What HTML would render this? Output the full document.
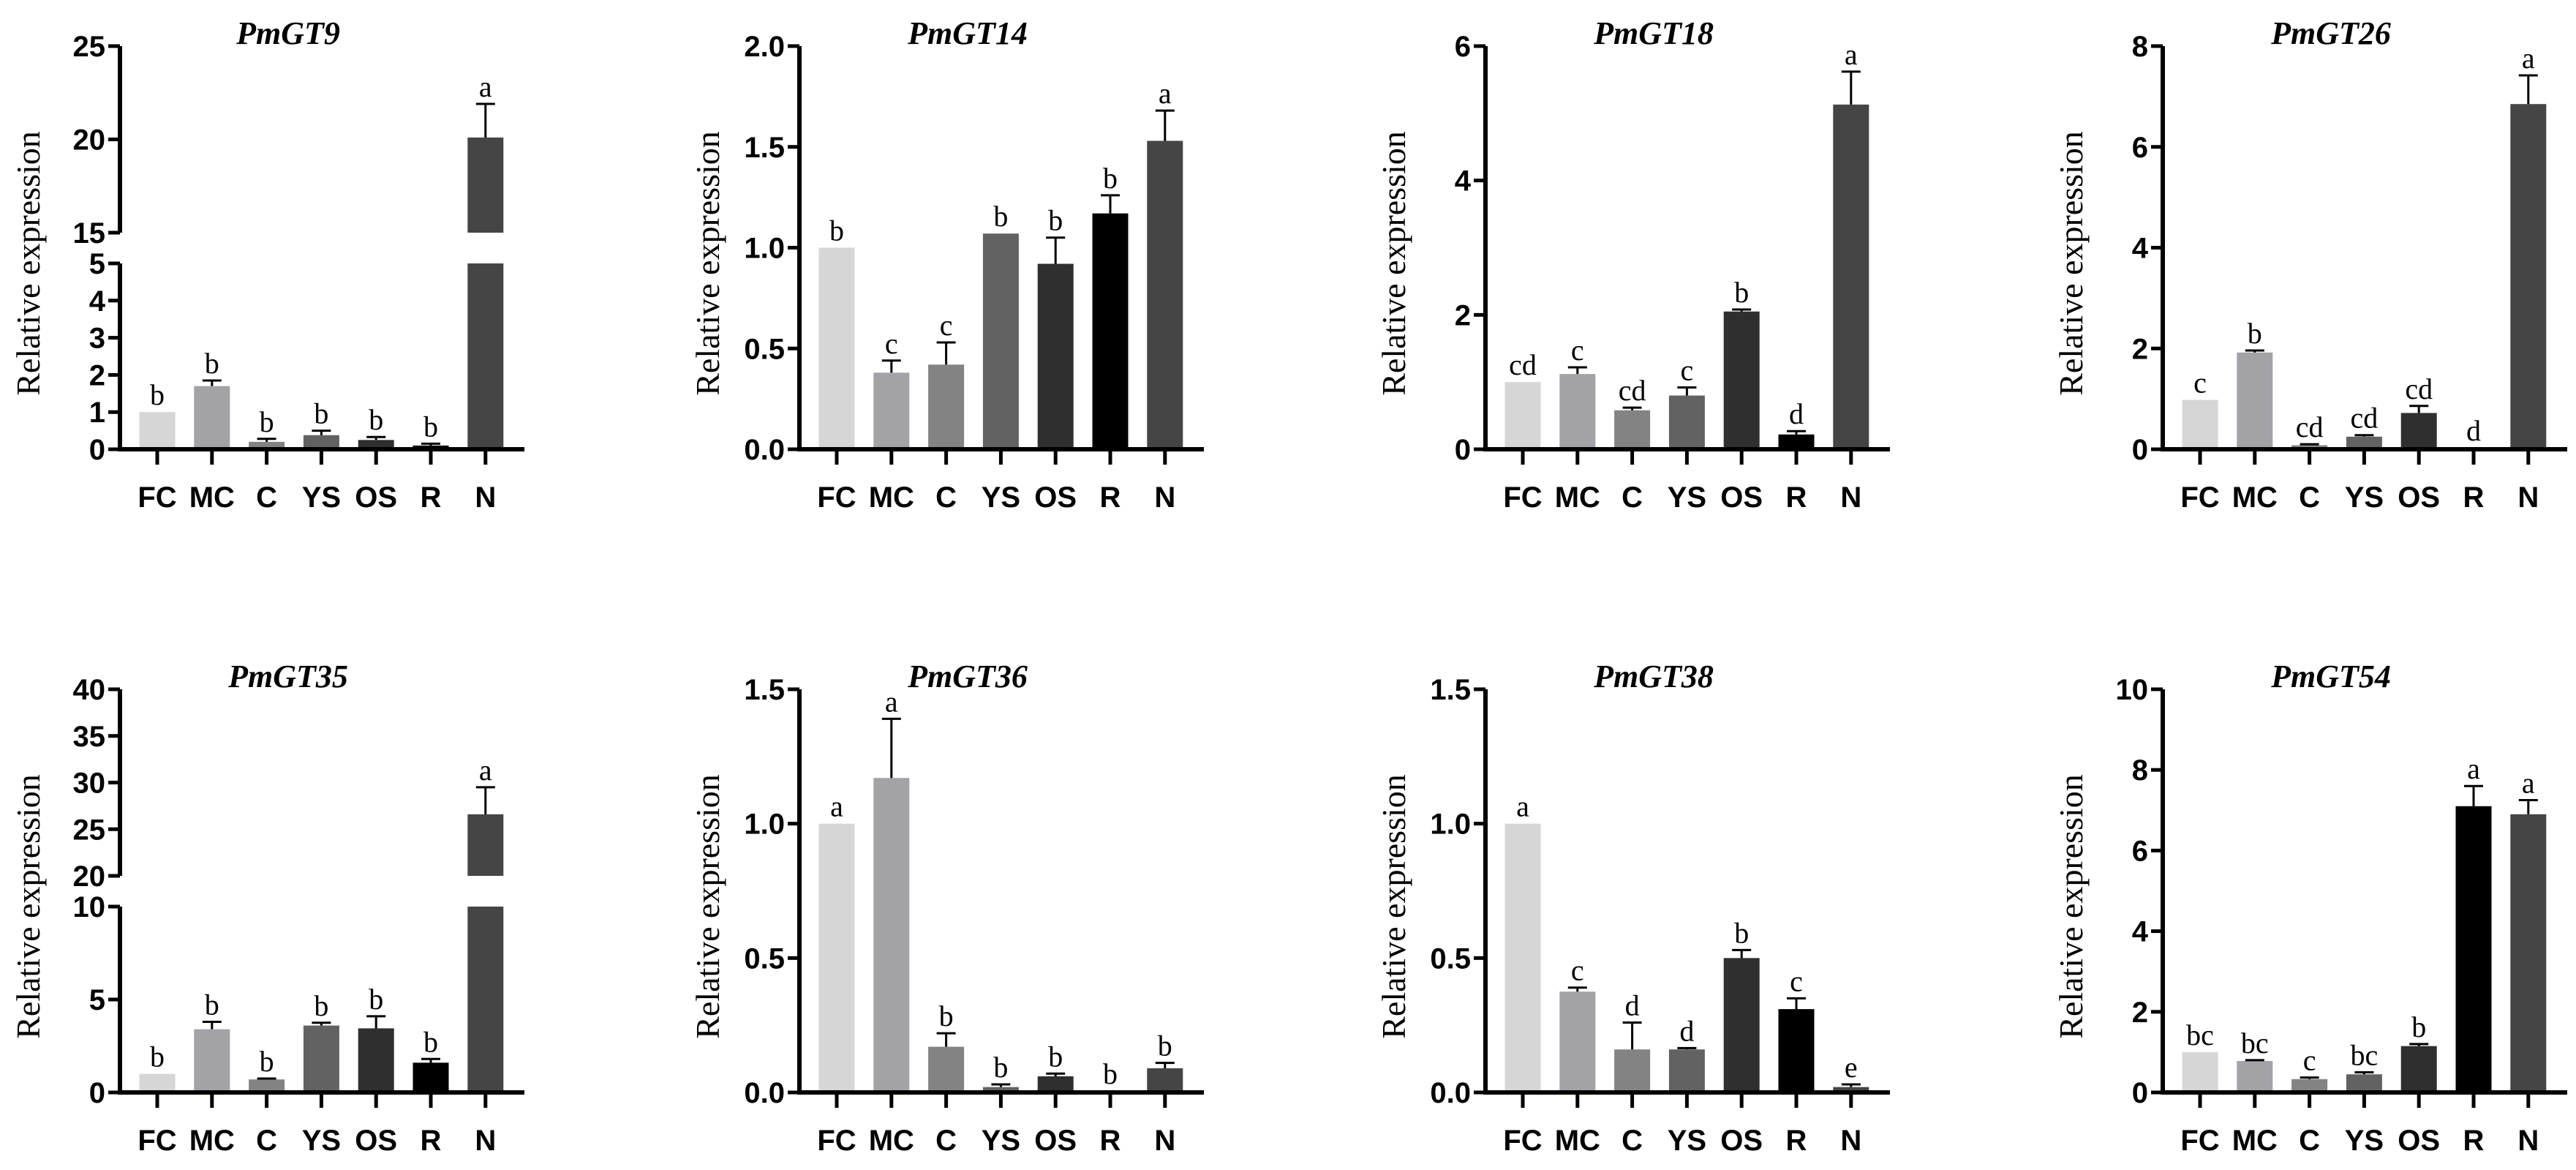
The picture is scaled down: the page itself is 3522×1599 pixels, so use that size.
<!DOCTYPE html>
<html><head><meta charset="utf-8"><style>
html,body{margin:0;padding:0;background:#fff}
svg{display:block}
.tk{font-family:"Liberation Sans",Arial,sans-serif;font-weight:bold;font-size:40px}
.ti{font-family:"Liberation Serif",serif;font-weight:bold;font-style:italic;font-size:44px}
.yl{font-family:"Liberation Serif",serif;font-size:46px}
.lt{font-family:"Liberation Serif",serif;font-size:40px}
</style></head><body>
<svg id="fig" width="3522" height="1599" viewBox="0 0 3522 1599" xmlns="http://www.w3.org/2000/svg"></svg>
<script>
const categories = ["FC","MC","C","YS","OS","R","N"];
const colors = ["#d6d6d6","#a3a2a7","#838383","#626262","#2f2f2f","#000000","#454545"];

const gt9Values = [1.0,1.7,0.2,0.38,0.25,0.1,20.1];
const gt9Err = [1.0,1.85,0.28,0.5,0.33,0.15,21.9];
const gt9Letters = ["b","b","b","b","b","b","a"];
const gt14Values = [1.0,0.38,0.42,1.07,0.92,1.17,1.53];
const gt14Err = [1.0,0.44,0.53,1.07,1.05,1.26,1.68];
const gt14Letters = ["b","c","c","b","b","b","a"];
const gt18Values = [1.0,1.12,0.58,0.8,2.05,0.22,5.13];
const gt18Err = [1.0,1.22,0.62,0.92,2.08,0.27,5.62];
const gt18Letters = ["cd","c","cd","c","b","d","a"];
const gt26Values = [0.98,1.92,0.08,0.25,0.72,0.03,6.85];
const gt26Err = [0.98,1.96,0.1,0.28,0.86,0.03,7.42];
const gt26Letters = ["c","b","cd","cd","cd","d","a"];
const gt35Values = [1.0,3.4,0.7,3.6,3.45,1.6,26.6];
const gt35Err = [1.0,3.8,0.75,3.75,4.1,1.8,29.5];
const gt35Letters = ["b","b","b","b","b","b","a"];
const gt36Values = [1.0,1.17,0.17,0.02,0.06,0.005,0.09];
const gt36Err = [1.0,1.39,0.22,0.03,0.07,0.005,0.11];
const gt36Letters = ["a","a","b","b","b","b","b"];
const gt38Values = [1.0,0.375,0.16,0.16,0.5,0.31,0.02];
const gt38Err = [1.0,0.39,0.26,0.165,0.53,0.35,0.03];
const gt38Letters = ["a","c","d","d","b","c","e"];
const gt54Values = [1.0,0.78,0.33,0.45,1.15,7.1,6.9];
const gt54Err = [1.0,0.8,0.37,0.5,1.2,7.6,7.25];
const gt54Letters = ["bc","bc","c","bc","b","a","a"];

const ticks9Low = [0,1,2,3,4,5]; const ticks9High = [15,20,25];
const ticks35Low = [0,5,10]; const ticks35High = [20,25,30,35,40];
const ticks14 = ["0.0","0.5","1.0","1.5","2.0"];
const ticks18 = ["0","2","4","6"];
const ticks26 = ["0","2","4","6","8"];
const ticks36 = ["0.0","0.5","1.0","1.5"];
const ticks54 = ["0","2","4","6","8","10"];

const svg = document.getElementById('fig');
const NS = "http://www.w3.org/2000/svg";
function mk(tag, attrs, parent, text){
  const e = document.createElementNS(NS, tag);
  for (const k in attrs) e.setAttribute(k, attrs[k]);
  if (text !== undefined) e.textContent = text;
  (parent||svg).appendChild(e);
  return e;
}

function panel(p){
  const g = mk('g', {});
  
  
  const ax = p.ax, y0 = p.y0, top = y0 - 551;
  const step = 74.8, first = ax + 51, bw = 49;
  let yScale;
  if (p.brk) {
    const b = p.brk;
    const lowTop = y0 - 254, highBot = y0 - 296;
    yScale = v => v <= b.lowMax ? y0 - (v / b.lowMax) * 254
      : (v < b.highMin ? lowTop : highBot - (v - b.highMin) / (b.highMax - b.highMin) * 255);
  } else {
    yScale = v => y0 - v / p.max * 551;
  }
  const t = mk('text', {x: ax + 230, y: top - 3, 'text-anchor': 'middle', class: 'ti'}, g, p.name);
  
  
  const yl = mk('text', {x: 0, y: 0, 'text-anchor': 'middle', class: 'yl', transform: `translate(${ax - 110},${y0 - 254}) rotate(-90)`}, g, 'Relative expression');
  
  
  for (let i = 0; i < categories.length; i++) {
    const cx = first + i * step, v = p.values[i], e = p.err[i];
    if (p.brk && v > p.brk.highMin) {
      const r1 = mk('rect', {x: cx - bw/2, y: yScale(p.brk.lowMax), width: bw, height: y0 - yScale(p.brk.lowMax), fill: colors[i]}, g);
      
      
      const r2 = mk('rect', {x: cx - bw/2, y: yScale(v), width: bw, height: yScale(p.brk.highMin) - yScale(v), fill: colors[i]}, g);
      
      
    } else {
      const r = mk('rect', {x: cx - bw/2, y: yScale(v), width: bw, height: y0 - yScale(v), fill: colors[i]}, g);
      
      
    }
    if (e > v) {
      const eb = mk('path', {d: `M${cx},${yScale(v)}V${yScale(e)}M${cx-13},${yScale(e)}H${cx+13}`, stroke: '#000', 'stroke-width': 3, fill: 'none'}, g);
      
      
    }
    const lt = mk('text', {x: cx, y: yScale(Math.max(e, v)) - 10, 'text-anchor': 'middle', class: 'lt'}, g, p.letters[i]);
    
    
    const xt = mk('line', {x1: cx, x2: cx, y1: y0, y2: y0 + 21, stroke: '#000', 'stroke-width': 5}, g);
    
    
    const xl = mk('text', {x: cx, y: y0 + 79, 'text-anchor': 'middle', class: 'tk'}, g, categories[i]);
    
    
  }
  const xa = mk('line', {x1: ax - 3, x2: ax + 553, y1: y0, y2: y0, stroke: '#000', 'stroke-width': 6}, g);
  
  
  const segs = p.brk ? [[y0 + 3, yScale(p.brk.lowMax)], [yScale(p.brk.highMin), top]] : [[y0 + 3, top]];
  segs.forEach(s => {
    const ya = mk('line', {x1: ax, x2: ax, y1: s[0], y2: s[1], stroke: '#000', 'stroke-width': 6}, g);
    
    
  });
  p.ticks.forEach(tv => {
    const v = parseFloat(tv), y = yScale(v);
    const tl = mk('line', {x1: ax - 16, x2: ax, y1: y, y2: y, stroke: '#000', 'stroke-width': 5}, g);
    
    
    const tt = mk('text', {x: ax - 20, y: y + 14, 'text-anchor': 'end', class: 'tk'}, g, String(tv));
    
    
  });
}

const Y0 = 614, Y1 = 1493;
panel({name:'PmGT9', ax:164, y0:Y0, values:gt9Values, err:gt9Err, letters:gt9Letters, ticks:ticks9Low.concat(ticks9High), brk:{lowMax:5, highMin:15, highMax:25}});
panel({name:'PmGT14', ax:1093, y0:Y0, values:gt14Values, err:gt14Err, letters:gt14Letters, ticks:ticks14, max:2});
panel({name:'PmGT18', ax:2031, y0:Y0, values:gt18Values, err:gt18Err, letters:gt18Letters, ticks:ticks18, max:6});
panel({name:'PmGT26', ax:2957, y0:Y0, values:gt26Values, err:gt26Err, letters:gt26Letters, ticks:ticks26, max:8});
panel({name:'PmGT35', ax:164, y0:Y1, values:gt35Values, err:gt35Err, letters:gt35Letters, ticks:ticks35Low.concat(ticks35High), brk:{lowMax:10, highMin:20, highMax:40}});
panel({name:'PmGT36', ax:1093, y0:Y1, values:gt36Values, err:gt36Err, letters:gt36Letters, ticks:ticks36, max:1.5});
panel({name:'PmGT38', ax:2031, y0:Y1, values:gt38Values, err:gt38Err, letters:gt38Letters, ticks:ticks36, max:1.5});
panel({name:'PmGT54', ax:2957, y0:Y1, values:gt54Values, err:gt54Err, letters:gt54Letters, ticks:ticks54, max:10});
</script>
</body></html>
